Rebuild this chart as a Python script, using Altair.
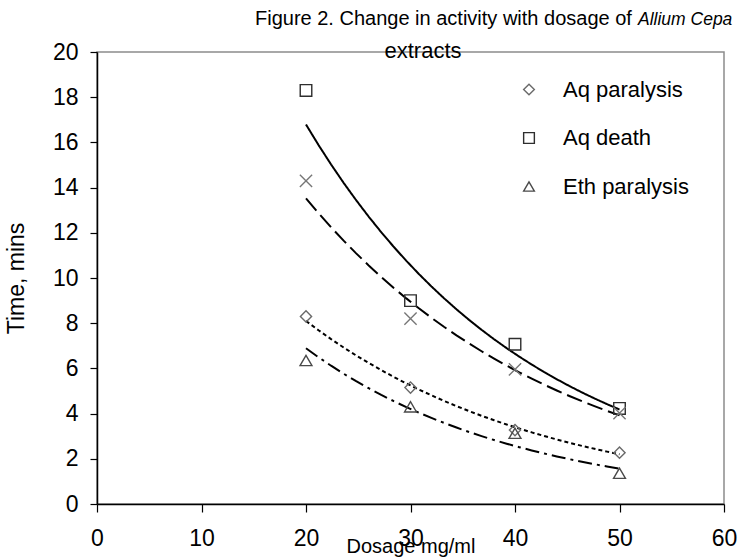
import altair as alt
import pandas as pd

# ---- data ----
doses = [20, 30, 40, 50]
aq_paralysis = [8.3, 5.15, 3.27, 2.27]
aq_death = [18.3, 9.0, 7.07, 4.23]
eth_paralysis = [6.35, 4.3, 3.13, 1.36]
eth_death = [14.3, 8.2, 5.96, 4.02]
series_names = ["Aq paralysis", "Aq death", "Eth paralysis", "Eth death"]
legend_names = ["Aq paralysis", "Aq death", "Eth paralysis"]
x_ticks = [0, 10, 20, 30, 40, 50, 60]
y_ticks = [0, 2, 4, 6, 8, 10, 12, 14, 16, 18, 20]
title_main = "Figure 2. Change in activity with dosage of"
title_italic = "Allium Cepa"
title_line2 = "extracts"

rows = []
for name, vals in zip(series_names, [aq_paralysis, aq_death, eth_paralysis, eth_death]):
    for d, v in zip(doses, vals):
        rows.append({"series": name, "dose": d, "time": v})
df = pd.DataFrame(rows)
ldf = pd.DataFrame({"series": legend_names})

FONT = "Liberation Sans"
W, H = 627, 452
PAD_L, PAD_T = 97, 52

x_scale = alt.Scale(domain=[0, 60], nice=False, zero=False)
y_scale = alt.Scale(domain=[0, 20], nice=False, zero=False)

shape_scale = alt.Scale(domain=series_names,
                        range=["diamond", "square", "triangle-up", "M-1,-1L1,1M-1,1L1,-1"])
stroke_scale = alt.Scale(domain=series_names,
                         range=["#6a6a6a", "#2e2e2e", "#4a4a4a", "#777777"])
dash_scale = alt.Scale(domain=series_names,
                       range=[[4, 3], [1, 0], [14, 5, 3, 5], [16, 6]])

x_axis = alt.Axis(
    values=x_ticks, grid=False, domainColor="black", domainWidth=1.5,
    tickColor="black", tickSize=8, tickWidth=1.2, labelFontSize=23,
    labelFont=FONT, labelColor="black", labelPadding=15, labelFlush=False,
    title="Dosage mg/ml", titleFont=FONT, titleFontSize=20,
    titleFontWeight="normal", titleColor="black", titleBaseline="alphabetic",
    titleY=48,
)
y_axis = alt.Axis(
    values=y_ticks, grid=False, domainColor="black", domainWidth=1.5,
    tickColor="black", tickSize=7, tickWidth=1.2, labelFontSize=23,
    labelFont=FONT, labelColor="black", labelPadding=12, labelFlush=False,
    title="Time, mins", titleFont=FONT, titleFontSize=23,
    titleFontWeight="normal", titleColor="black", titleX=-69,
)

base = alt.Chart(df)

trend = (
    base.transform_calculate(ly="log(datum.time)")
    .transform_regression("dose", "ly", groupby=["series"], method="poly",
                          order=1, extent=[20, 50])
    .transform_calculate(fit="exp(datum.ly)")
    .mark_line(color="black", strokeWidth=2)
    .encode(
        x=alt.X("dose:Q", scale=x_scale, axis=x_axis),
        y=alt.Y("fit:Q", scale=y_scale, axis=y_axis),
        strokeDash=alt.StrokeDash("series:N", scale=dash_scale, legend=None),
    )
)

points = (
    base.transform_calculate(size_series="datum.series")
    .mark_point(filled=False, strokeWidth=1.4, opacity=1)
    .encode(
        x=alt.X("dose:Q", scale=x_scale, axis=x_axis),
        y=alt.Y("time:Q", scale=y_scale, axis=y_axis),
        shape=alt.Shape("series:N", scale=shape_scale, legend=None),
        stroke=alt.Stroke("series:N", scale=stroke_scale, legend=None),
        size=alt.Size("size_series:N", scale=alt.Scale(
            domain=series_names, range=[125, 150, 170, 170]), legend=None),
    )
)

# manual legend (reference shows only three entries)
leg_y = alt.Y("series:N", scale=alt.Scale(type="point", domain=legend_names,
                                          range=[37.5, 134.5], padding=0), axis=None)
leg_pts = alt.Chart(ldf).mark_point(filled=False, strokeWidth=1.4, opacity=1, size=115).encode(
    x=alt.value(432), y=leg_y,
    shape=alt.Shape("series:N", scale=shape_scale, legend=None),
    stroke=alt.Stroke("series:N", scale=stroke_scale, legend=None),
)
leg_txt = alt.Chart(ldf).mark_text(font=FONT, fontSize=22, align="left",
                                   baseline="middle", color="black").encode(
    x=alt.value(466), y=leg_y, text="series:N")

tdf = pd.DataFrame({"a": [title_main], "b": [title_italic], "c": [title_line2]})
t1 = alt.Chart(tdf).mark_text(font=FONT, fontSize=20, align="left",
                              baseline="alphabetic", color="black").encode(
    text="a:N", x=alt.value(158), y=alt.value(-27))
t2 = alt.Chart(tdf).mark_text(font=FONT, fontSize=17.5, align="left", fontStyle="italic",
                              baseline="alphabetic", color="black").encode(
    text="b:N", x=alt.value(541), y=alt.value(-27))
t3 = alt.Chart(tdf).mark_text(font=FONT, fontSize=22, align="center",
                              baseline="alphabetic", color="black").encode(
    text="c:N", x=alt.value(326), y=alt.value(5.5))

main = alt.layer(trend, points, t1, t2, t3).resolve_scale(x="shared", y="shared")
legend_layer = alt.layer(leg_pts, leg_txt)

chart = (
    alt.layer(main, legend_layer)
    .resolve_scale(y="independent")
    .properties(width=W, height=H, autosize=alt.AutoSizeParams(type="none"),
                padding={"left": PAD_L, "top": PAD_T, "right": 739 - PAD_L - W,
                         "bottom": 558 - PAD_T - H}, background="white")
    .configure_view(stroke="#8c8c8c", strokeWidth=1.5)
)

chart.save("out.html", embed_options={"renderer": "svg", "actions": False})
